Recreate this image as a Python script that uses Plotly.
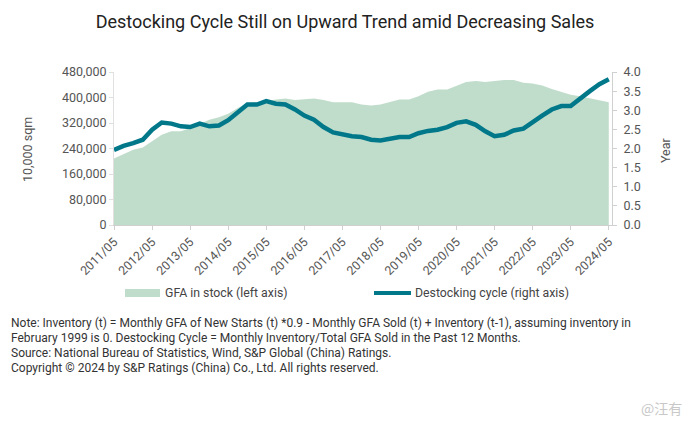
import pandas as pd
import plotly.graph_objects as go

# Quarterly readings, 2011/05 .. 2024/05
dates = pd.date_range("2011-05-01", "2024-05-01", freq="3MS")

gfa_in_stock = [  # 10,000 sqm
    209000, 223000, 236000,
    243000, 262000, 283000, 294000,
    294000, 304000, 318000, 330000,
    338000, 349000, 367000, 383000,
    385000, 388000, 394000, 397000,
    392000, 394000, 397000, 392000,
    385000, 385000, 385000, 378000,
    375000, 378000, 385000, 394000,
    394000, 404000, 418000, 425000,
    425000, 436000, 449000, 452000,
    449000, 452000, 455000, 455000,
    446000, 444000, 438000, 427000,
    417000, 409000, 404000, 397000,
    391000, 385000,
]

destocking_cycle = [  # years
    1.96, 2.07, 2.14,
    2.23, 2.49, 2.68, 2.65,
    2.58, 2.56, 2.65, 2.58,
    2.60, 2.74, 2.95, 3.15,
    3.15, 3.24, 3.17, 3.15,
    3.02, 2.86, 2.75, 2.56,
    2.42, 2.36, 2.32, 2.30,
    2.23, 2.21, 2.25, 2.30,
    2.30, 2.40, 2.46, 2.49,
    2.56, 2.67, 2.71, 2.62,
    2.45, 2.32, 2.36, 2.47,
    2.52, 2.67, 2.86, 3.02,
    3.11, 3.11, 3.32, 3.50,
    3.68, 3.81,
]

tick_years = list(range(2011, 2025))
tick_vals = [f"{y}-05-01" for y in tick_years]
tick_text = [f"{y}/05" for y in tick_years]

title_text = "Destocking Cycle Still on Upward Trend amid Decreasing Sales"
legend_area = "GFA in stock (left axis)"
legend_line = "Destocking cycle (right axis)"
note_lines = [
    "Note: Inventory (t) = Monthly GFA of New Starts (t) *0.9 - Monthly GFA Sold (t) + Inventory (t-1), assuming inventory in",
    "February 1999 is 0. Destocking Cycle = Monthly Inventory/Total GFA Sold in the Past 12 Months.",
    "Source: National Bureau of Statistics, Wind, S&P Global (China) Ratings.",
    "Copyright © 2024 by S&P Ratings (China) Co., Ltd. All rights reserved.",
]

AREA_COLOR = "#c0ddcc"
LINE_COLOR = "#00788a"
TICK_COLOR = "#555555"
FONT = "Roboto"

fig = go.Figure()
fig.add_trace(go.Scatter(
    x=dates, y=gfa_in_stock, name=legend_area, mode="lines",
    line=dict(width=0, color=AREA_COLOR), fill="tozeroy", fillcolor=AREA_COLOR,
    yaxis="y", showlegend=False, hoverinfo="skip",
))
fig.add_trace(go.Scatter(
    x=dates, y=destocking_cycle, name=legend_line, mode="lines",
    line=dict(width=4.5, color=LINE_COLOR), yaxis="y2", showlegend=False,
    hoverinfo="skip",
))

L, R, T, B = 114, 78, 72, 201
W, H = 690, 426
PW, PH = W - L - R, H - T - B


def px(xp):
    return (xp - L) / PW


def py(yp):
    return (H - B - yp) / PH


fig.update_layout(
    width=W, height=H,
    margin=dict(l=L, r=R, t=T, b=B),
    paper_bgcolor="white", plot_bgcolor="white",
    font=dict(family=FONT, size=12, color=TICK_COLOR),
    title=dict(text=title_text, x=0.5, xanchor="center", y=1 - 22 / H,
               yanchor="middle", font=dict(family=FONT, size=18, color="#222222")),
    xaxis=dict(
        range=["2011-05-01", "2024-06-01"], tickvals=tick_vals, ticktext=tick_text,
        tickangle=-45, showgrid=False, showline=True, linecolor="#d0d0d0",
        ticks="outside", ticklen=4, tickcolor="#d0d0d0",
        tickfont=dict(size=12.3, color=TICK_COLOR), zeroline=False,
    ),
    yaxis=dict(
        range=[0, 480000], dtick=80000, tickformat=",", showgrid=False,
        showline=True, linecolor="#e0e0e0", ticks="outside", ticklen=4,
        tickcolor="#e0e0e0", tickfont=dict(size=12.5, color=TICK_COLOR), zeroline=False,
    ),
    yaxis2=dict(
        range=[0, 4], dtick=0.5, tickformat=".1f", overlaying="y", side="right",
        showgrid=False, showline=True, linecolor="#d0d0d0", ticks="outside",
        ticklen=4, tickcolor="#d0d0d0", tickfont=dict(size=12.5, color=TICK_COLOR),
        zeroline=False, ticklabelstandoff=4,
    ),
)

shapes = [
    dict(type="rect", xref="paper", yref="paper", x0=px(125), x1=px(160),
         y0=py(297), y1=py(289), fillcolor=AREA_COLOR, line=dict(width=0)),
    dict(type="line", xref="paper", yref="paper", x0=px(374), x1=px(411),
         y0=py(293), y1=py(293), line=dict(color=LINE_COLOR, width=4)),
]
annotations = [
    dict(text="10,000 sqm", xref="paper", yref="paper", x=px(27), y=py(150),
         xanchor="center", yanchor="middle",
         textangle=-90, showarrow=False, font=dict(size=12.5, color=TICK_COLOR)),
    dict(text="Year", xref="paper", yref="paper", x=px(665), y=py(150),
         xanchor="center", yanchor="middle",
         textangle=-90, showarrow=False, font=dict(size=12.5, color=TICK_COLOR)),
    dict(text=legend_area, xref="paper", yref="paper", x=px(163), y=py(293),
         xanchor="left", yanchor="middle", showarrow=False,
         font=dict(size=12.3, color="#444444")),
    dict(text=legend_line, xref="paper", yref="paper", x=px(413), y=py(293),
         xanchor="left", yanchor="middle", showarrow=False,
         font=dict(size=12.3, color="#444444")),
    dict(text="@汪有", xref="paper", yref="paper", x=px(684), y=py(408),
         xanchor="right", yanchor="middle", showarrow=False,
         font=dict(family="Noto Sans CJK SC", size=14, color="#c8c8c8")),
]
for i, line in enumerate(note_lines):
    annotations.append(dict(
        text=line, xref="paper", yref="paper", x=px(9), y=py(323 + 15 * i),
        xanchor="left", yanchor="middle", align="left", showarrow=False,
        font=dict(size=12, color="#333333"),
    ))
fig.update_layout(shapes=shapes, annotations=annotations)

fig.write_html(
    "out.html",
    config={"displayModeBar": False},
    post_script="document.body.style.margin='0';document.body.style.padding='0';",
)
